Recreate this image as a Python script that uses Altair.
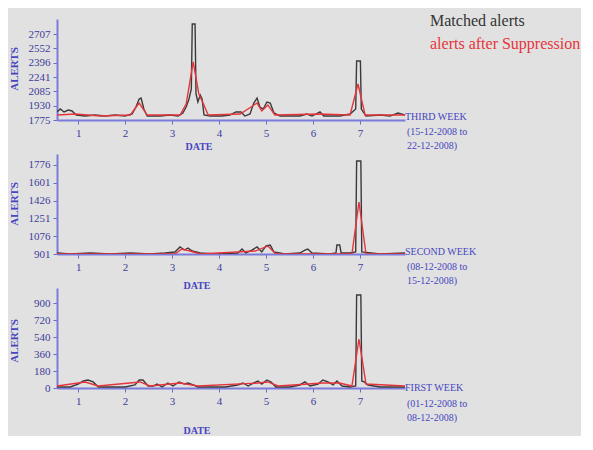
import altair as alt
import pandas as pd

# ---------------- data ----------------
day_ticks = [1, 2, 3, 4, 5, 6, 7]

# third week (top panel)
p1_black_day = [0.55, 0.62, 0.70, 0.79, 0.87, 0.96, 1.15, 1.36, 1.57, 1.79, 2.00, 2.15, 2.23, 2.30, 2.34, 2.40, 2.47, 2.74, 2.96, 3.13,
                3.23, 3.30, 3.36, 3.41, 3.43, 3.49, 3.51, 3.55, 3.60, 3.64, 3.68, 3.81, 4.06, 4.23, 4.36, 4.47, 4.55, 4.66, 4.74, 4.81,
                4.87, 4.94, 5.02, 5.09, 5.17, 5.30, 5.72, 5.87, 5.98, 6.15, 6.23, 6.57, 6.79, 6.91, 6.93, 7.01, 7.03, 7.13, 7.43, 7.64,
                7.81, 7.96]
p1_black_val = [1862, 1894, 1862, 1883, 1873, 1829, 1818, 1829, 1818, 1829, 1818, 1840, 1916, 2003, 2013, 1894, 1818, 1818, 1829, 1818,
                1851, 1916, 2003, 2111, 2816, 2816, 2057, 1970, 2046, 2003, 1829, 1818, 1818, 1829, 1862, 1862, 1818, 1840, 1959, 2013,
                1916, 1894, 1970, 1959, 1851, 1818, 1818, 1840, 1818, 1862, 1818, 1818, 1840, 1894, 2415, 2415, 1894, 1818, 1829, 1818,
                1851, 1829]
p1_red_day = [0.55, 0.94, 1.47, 2.11, 2.30, 2.47, 3.17, 3.30, 3.45, 3.57, 3.66, 3.77, 4.45, 4.81, 4.91, 5.04, 5.19, 6.15, 6.79, 6.96,
              7.11, 7.96]
p1_red_val = [1829, 1840, 1818, 1829, 1959, 1829, 1829, 1948, 2404, 2057, 1959, 1829, 1840, 1959, 1873, 1938, 1829, 1840, 1829, 2165,
              1829, 1829]
p1_ticks = [1775, 1930, 2085, 2241, 2396, 2552, 2707]

# second week (middle panel)
p2_black_day = [0.55, 0.83, 1.26, 1.68, 2.11, 2.53, 2.85, 3.06, 3.17, 3.26, 3.34, 3.43, 3.60, 3.91, 4.40, 4.49, 4.57, 4.70, 4.81, 4.91,
                5.00, 5.09, 5.17, 5.40, 5.72, 5.83, 5.89, 5.98, 6.36, 6.49, 6.51, 6.57, 6.60, 6.79, 6.91, 6.93, 7.02, 7.04, 7.43, 7.96]
p2_black_val = [911, 901, 911, 901, 911, 901, 911, 921, 970, 940, 960, 930, 911, 901, 911, 950, 911, 940, 970, 921,
                980, 989, 921, 901, 911, 940, 950, 911, 901, 911, 989, 989, 911, 911, 921, 1815, 1815, 921, 901, 911]
p2_red_day = [0.55, 3.06, 3.21, 3.38, 3.60, 4.77, 5.04, 5.21, 6.83, 6.98, 7.13, 7.96]
p2_red_val = [901, 901, 950, 930, 901, 930, 980, 901, 901, 1412, 901, 901]
p2_ticks = [901, 1076, 1251, 1426, 1601, 1776]

# first week (bottom panel)
p3_black_day = [0.55, 0.83, 1.00, 1.11, 1.21, 1.32, 1.43, 2.00, 2.21, 2.30, 2.38, 2.49, 2.60, 2.68, 2.79, 2.91, 3.02, 3.15, 3.26, 3.34,
                3.45, 3.55, 4.13, 4.40, 4.51, 4.62, 4.74, 4.83, 4.91, 5.02, 5.11, 5.21, 5.51, 5.72, 5.83, 5.94, 6.11, 6.21, 6.32, 6.43,
                6.51, 6.62, 6.79, 6.91, 6.93, 7.02, 7.04, 7.09, 7.17, 7.43, 7.96]
p3_black_val = [11, 11, 42, 74, 85, 64, 11, 11, 32, 85, 85, 21, 21, 42, 11, 53, 21, 64, 42, 53,
                32, 11, 11, 32, 53, 21, 53, 74, 42, 85, 64, 11, 11, 32, 64, 21, 42, 85, 64, 32,
                74, 21, 11, 21, 985, 985, 74, 64, 32, 11, 11]
p3_red_day = [0.55, 1.15, 1.43, 2.32, 2.53, 3.17, 3.55, 4.83, 5.04, 5.26, 6.21, 6.57, 6.83, 6.98, 7.13, 7.96]
p3_red_val = [21, 64, 21, 64, 21, 53, 21, 53, 64, 21, 53, 53, 21, 519, 42, 21]
p3_ticks = [0, 180, 360, 540, 720, 900]

week_names = ["THIRD WEEK", "SECOND WEEK", "FIRST WEEK"]
week_from = ["(15-12-2008 to", "(08-12-2008 to", "(01-12-2008 to"]
week_to = ["22-12-2008)", "15-12-2008)", "08-12-2008)"]
legend_labels = ["Matched alerts", "alerts after Suppression"]

# ---------------- style ----------------
BG = "#e1e1e1"
BLACK = "#3a3a3a"
RED = "#e5353b"
BLUE = "#4646c0"
SERIF = "Liberation Serif"
W = 348


def text(label, x, y, color=BLUE, size=10, align="left", angle=0, weight="normal"):
    return alt.Chart(pd.DataFrame({"t": [label]})).mark_text(
        font=SERIF, fontSize=size, color=color, align=align, baseline="middle",
        angle=angle, fontWeight=weight
    ).encode(text="t:N", x=alt.value(x), y=alt.value(y))


def panel(bday, bval, rday, rval, domain, ticks, idx, h, text_y, alerts_y, date_y, date_x):
    df_b = pd.DataFrame({"day": bday, "alerts": bval})
    df_r = pd.DataFrame({"day": rday, "alerts": rval})
    x = alt.X("day:Q", scale=alt.Scale(domain=[0.55, 7.96], nice=False, zero=False),
              axis=alt.Axis(values=day_ticks, format="d", title=None))
    y = alt.Y("alerts:Q", scale=alt.Scale(domain=domain, nice=False, zero=False),
              axis=alt.Axis(values=ticks, format="d", title=None))
    black = alt.Chart(df_b).mark_line(color=BLACK, strokeWidth=1.4, clip=True).encode(x=x, y=y)
    red = alt.Chart(df_r).mark_line(color=RED, strokeWidth=1.4, clip=True).encode(x=x, y=y)
    layers = [black, red,
              text(week_names[idx], W, text_y[0]),
              text(week_from[idx], W + 2, text_y[1]),
              text(week_to[idx], W + 2, text_y[2]),
              text("ALERTS", -42, alerts_y, size=11, align="center", angle=270, weight="bold"),
              text("DATE", date_x, date_y, size=10, align="center", weight="bold")]
    if idx == 0:
        layers.append(text(legend_labels[0], 373, 2, color="#333333", size=16))
        layers.append(text(legend_labels[1], 373, 25, color=RED, size=16))
    return alt.layer(*layers).properties(width=W, height=h)


p1 = panel(p1_black_day, p1_black_val, p1_red_day, p1_red_val, [1775, 2870], p1_ticks, 0, 101,
           [98, 113, 127], 50, 128, 142)
p2 = panel(p2_black_day, p2_black_val, p2_red_day, p2_red_val, [901, 1884], p2_ticks, 1, 100,
           [98, 113, 127], 50, 132, 140)
p3 = panel(p3_black_day, p3_black_val, p3_red_day, p3_red_val, [0, 1059], p3_ticks, 2, 100,
           [100, 116, 130], 53, 143, 140)

chart = alt.vconcat(p1, p2, p3, spacing=34, bounds="flush").configure(
    background=BG,
    padding={"left": 1, "top": 5, "right": 0, "bottom": 0},
).configure_view(stroke=None).configure_axis(
    domainColor="#7b7bdc", domainWidth=2, tickColor="#6a6ac8", tickSize=4,
    labelFont=SERIF, labelFontSize=11, labelColor="#3c3c9a", labelPadding=3,
    grid=False,
)

chart.save("out.html", embed_options={"renderer": "svg", "actions": False})
